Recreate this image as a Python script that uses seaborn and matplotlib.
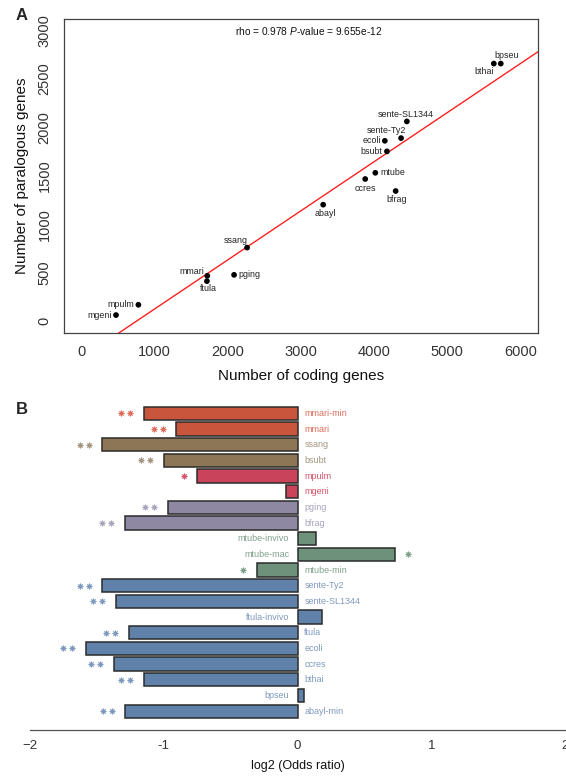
import numpy as np
import pandas as pd
import matplotlib
matplotlib.use("Agg")
import matplotlib.pyplot as plt
import seaborn as sns
from matplotlib.transforms import offset_copy

# ---------------- data: panel A ----------------
species = ["bpseu", "bthai", "sente-SL1344", "sente-Ty2", "ecoli", "bsubt", "mtube",
           "ccres", "bfrag", "abayl", "ssang", "mmari", "ftula", "pging", "mpulm", "mgeni"]
coding_genes = [5731, 5636, 4447, 4368, 4146, 4175, 4016, 3878, 4294, 3303, 2263,
                1719, 1714, 2085, 777, 471]
paralogous_genes = [2657, 2657, 2060, 1888, 1860, 1751, 1530, 1466, 1342, 1201, 758,
                    467, 412, 477, 168, 62]
x_ticks = [0, 1000, 2000, 3000, 4000, 5000, 6000]
y_ticks = [0, 500, 1000, 1500, 2000, 2500, 3000]
stat_text = r"rho = 0.978 $\mathit{P}$-value = 9.655e-12"

# ---------------- data: panel B ----------------
bar_labels = ["mmari-min", "mmari", "ssang", "bsubt", "mpulm", "mgeni", "pging", "bfrag",
              "mtube-invivo", "mtube-mac", "mtube-min", "sente-Ty2", "sente-SL1344",
              "ftula-invivo", "ftula", "ecoli", "ccres", "bthai", "bpseu", "abayl-min"]
log2_odds = [-1.148, -0.908, -1.460, -1.000, -0.749, -0.089, -0.970, -1.290,
             0.137, 0.728, -0.304, -1.460, -1.358, 0.181, -1.261, -1.584,
             -1.374, -1.148, 0.046, -1.288]
significance = ["**", "**", "**", "**", "*", "", "**", "**",
                "", "*", "*", "**", "**", "", "**", "**", "**", "**", "", "**"]
bar_groups = ["mmari", "mmari", "ssang", "ssang", "mpulm", "mpulm", "pging", "pging",
              "mtube", "mtube", "mtube", "blue", "blue", "blue", "blue", "blue",
              "blue", "blue", "blue", "blue"]
b_ticks = [-2, -1, 0, 1, 2]
b_tick_labels = ["\u22122", "-1", "0", "1", "2"]

# ---------------- style ----------------
group_bar_color = {"mmari": "#CA553D", "ssang": "#8C7655", "mpulm": "#C9445A",
                   "pging": "#8F88A2", "mtube": "#6E917B", "blue": "#6082AA"}
group_text_color = {"mmari": "#DE6B5A", "ssang": "#A39580", "mpulm": "#D9546B",
                    "pging": "#A9A3BE", "mtube": "#80A08B", "blue": "#7E99BE"}
# label placement in pixels relative to the point: (dx, dy, ha)
label_place = {
    "bpseu": (5.4, 8.0, "center"), "bthai": (-9.4, -8.3, "center"),
    "sente-SL1344": (-1.4, 7.3, "center"), "sente-Ty2": (-14.4, 7.3, "center"),
    "ecoli": (-3.6, 0.0, "right"), "bsubt": (-5.0, 0.0, "right"),
    "mtube": (4.7, 0.0, "left"), "ccres": (0.0, -9.7, "center"),
    "bfrag": (1.0, -8.3, "center"), "abayl": (2.5, -9.0, "center"),
    "ssang": (-11.2, 7.3, "center"), "mmari": (-2.9, 4.0, "right"),
    "ftula": (1.0, -7.3, "center"), "pging": (4.7, 0.0, "left"),
    "mpulm": (-4.3, 0.0, "right"), "mgeni": (-4.7, 0.0, "right"),
}
PX = 0.72  # points per pixel at dpi 100

sns.set_style("white")
plt.rcParams["font.family"] = ["Liberation Sans", "DejaVu Sans"]
plt.rcParams["mathtext.fontset"] = "custom"
plt.rcParams["mathtext.rm"] = "Liberation Sans"
plt.rcParams["mathtext.it"] = "Liberation Sans:italic"

W, H = 566, 779
fig = plt.figure(figsize=(W / 100, H / 100), dpi=100)
fig.patch.set_facecolor("white")

# ---------------- panel A ----------------
axA = fig.add_axes([64 / W, 1 - 332.7 / H, (538 - 64) / W, (332.7 - 18.7) / H])
dfA = pd.DataFrame({"species": species, "coding": coding_genes, "paralog": paralogous_genes})
axA.set_xlim(-240, 6240)
axA.set_ylim(-120, 3120)
sns.regplot(data=dfA, x="coding", y="paralog", scatter=False, ci=None, truncate=False,
            color="#FF2020", line_kws={"linewidth": 1.0}, ax=axA)
sns.scatterplot(data=dfA, x="coding", y="paralog", color="black", s=17,
                edgecolor="none", ax=axA, zorder=3)
axA.set_xlim(-240, 6240)
axA.set_ylim(-120, 3120)
for name, xv, yv in zip(species, coding_genes, paralogous_genes):
    dx, dy, ha = label_place[name]
    axA.annotate(name, (xv, yv), xytext=(dx * PX, dy * PX), textcoords="offset points",
                 ha=ha, va="center", fontsize=6.4, color="#222222")
axA.text(0.516, 0.961, stat_text, transform=axA.transAxes, ha="center", va="center",
         fontsize=7.3, color="#111111")
axA.set_xticks(x_ticks)
axA.set_xticklabels([str(t) for t in x_ticks])
axA.set_yticks(y_ticks)
axA.set_yticklabels([str(t) for t in y_ticks], rotation=90, va="center")
axA.tick_params(direction="out", length=5, width=0.8, colors="#333333",
                labelsize=10.5, pad=4)
for sp in axA.spines.values():
    sp.set_visible(True)
    sp.set_color("#444444")
    sp.set_linewidth(0.9)
axA.set_xlabel("Number of coding genes", fontsize=11, labelpad=7, color="#111111")
axA.set_ylabel("Number of paralogous genes", fontsize=11, labelpad=6, color="#111111")
axA.grid(False)

# ---------------- panel B ----------------
axB = fig.add_axes([30 / W, 1 - 730 / H, (565 - 30) / W, (730 - 400) / H])
dfB = pd.DataFrame({"label": bar_labels, "value": log2_odds, "group": bar_groups})
palette = {lab: group_bar_color[g] for lab, g in zip(bar_labels, bar_groups)}
sns.barplot(data=dfB, x="value", y="label", hue="label", palette=palette, orient="h",
            width=0.85, saturation=1, edgecolor="#2b2b2b", linewidth=1.1,
            legend=False, ax=axB)
axB.set_xlim(-2, 2)
axB.set_ylim(20.2, -0.85)

for i, (lab, val, sig, g) in enumerate(zip(bar_labels, log2_odds, significance, bar_groups)):
    tc = group_text_color[g]
    if val < 0:
        axB.annotate(lab, (0, i), xytext=(6.8 * PX, 0), textcoords="offset points",
                     ha="left", va="center", fontsize=6.5, color=tc)
        offs = [-13.5, -22.5]
    else:
        axB.annotate(lab, (0, i), xytext=(-8.3 * PX, 0), textcoords="offset points",
                     ha="right", va="center", fontsize=6.5, color=tc)
        offs = [13.5, 22.5]
    for k in range(len(sig)):
        tr = offset_copy(axB.transData, fig=fig, x=offs[k] * PX, y=0, units="points")
        axB.scatter([val], [i], marker=(8, 1, 0), s=30, color=tc, linewidths=0,
                    transform=tr, zorder=4, clip_on=False)

axB.set_yticks([])
axB.set_ylabel("")
axB.set_xticks(b_ticks)
axB.set_xticklabels(b_tick_labels)
axB.tick_params(axis="x", direction="out", length=4, width=0.8, colors="#333333",
                labelsize=9.5, pad=3)
for side in ["left", "top", "right"]:
    axB.spines[side].set_visible(False)
axB.spines["bottom"].set_color("#555555")
axB.spines["bottom"].set_linewidth(0.9)
axB.set_xlabel("log2 (Odds ratio)", fontsize=9, labelpad=6, color="#111111")
axB.grid(False)

fig.text(22 / W, 1 - 16 / H, "A", fontsize=12, fontweight="bold", ha="center", va="center")
fig.text(22 / W, 1 - 410 / H, "B", fontsize=12, fontweight="bold", ha="center", va="center")

fig.savefig("out.png", dpi=100, facecolor="white")
